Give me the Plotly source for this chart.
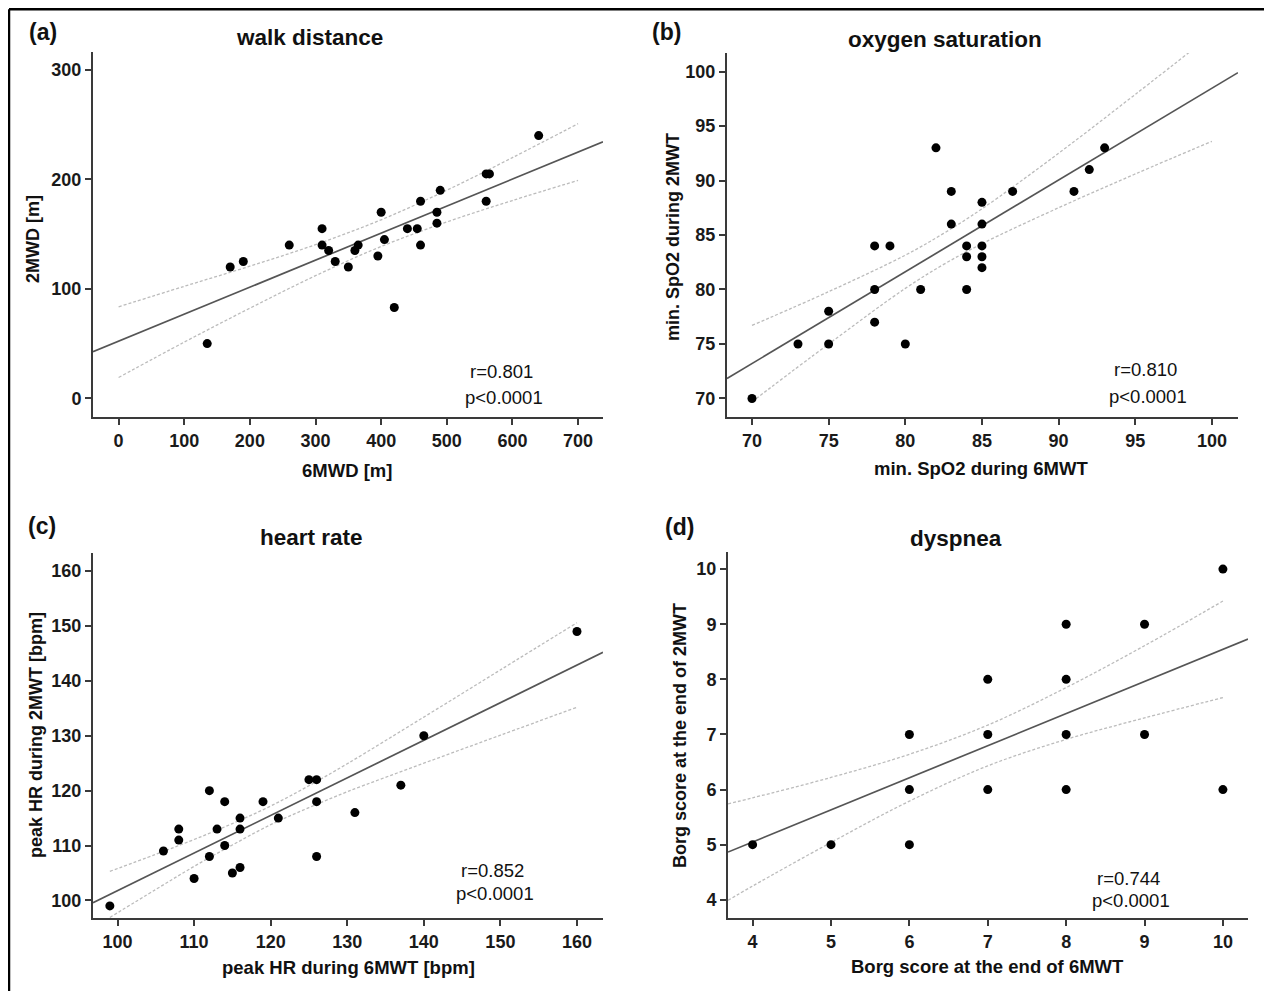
import plotly.graph_objects as go

# page is rendered with an 8px body margin, so the figure is offset by 8px
OFF = 8
FW, FH = 1272 - OFF, 991 - OFF

# ---------------- data ----------------
# (a) walk distance
a_x = [135, 170, 190, 260, 310, 310, 320, 330, 350, 360, 365, 395, 400, 405, 420,
       440, 455, 460, 460, 485, 485, 490, 560, 565, 560, 640]
a_y = [50, 120, 125, 140, 155, 140, 135, 125, 120, 135, 140, 130, 170, 145, 83,
       155, 155, 180, 140, 170, 160, 190, 205, 205, 180, 240]
a_fit_x = [-39, 738]
a_fit_y = [42.5, 234.4]
a_ci_x = [0, 100, 200, 300, 400, 500, 600, 700]
a_ci_upper = [83.6, 102.3, 120.7, 140.4, 163.1, 190.1, 219.9, 250.9]
a_ci_lower = [19.0, 51.3, 82.3, 112.0, 138.7, 161.1, 180.7, 199.1]

# (b) oxygen saturation
b_x = [70, 73, 75, 75, 78, 79, 78, 78, 80, 81, 82, 83, 83, 84, 84, 84, 85, 85, 85,
       85, 85, 87, 91, 92, 93]
b_y = [70, 75, 78, 75, 84, 84, 80, 77, 75, 80, 93, 89, 86, 84, 83, 80, 88, 86, 84,
       83, 82, 89, 89, 91, 93]
b_fit_x = [68.37, 101.7]
b_fit_y = [71.83, 99.9]
b_ci_x = [70, 75, 80, 82.5, 85, 90, 95, 100]
b_ci_upper = [76.7, 79.8, 83.15, 85.15, 87.4, 92.5, 97.9, 103.4]
b_ci_lower = [69.7, 75.0, 80.1, 82.3, 84.2, 87.5, 90.6, 93.6]

# (c) heart rate
c_x = [99, 106, 108, 108, 110, 112, 112, 113, 114, 114, 115, 116, 116, 116, 119,
       121, 125, 126, 126, 126, 131, 137, 140, 160]
c_y = [99, 109, 113, 111, 104, 120, 108, 113, 118, 110, 105, 115, 113, 106, 118,
       115, 122, 122, 118, 108, 116, 121, 130, 149]
c_fit_x = [96.8, 163.4]
c_fit_y = [99.6, 145.2]
c_ci_x = [99, 105, 110, 115, 120, 125, 130, 140, 150, 160]
c_ci_upper = [105.3, 108.4, 111.1, 114.0, 117.2, 120.9, 124.9, 133.4, 142.0, 150.6]
c_ci_lower = [96.9, 102.0, 106.2, 110.1, 113.8, 116.9, 119.8, 125.0, 130.1, 135.2]

# (d) dyspnea
d_x = [4, 5, 6, 6, 6, 7, 7, 7, 8, 8, 8, 8, 9, 9, 10, 10]
d_y = [5, 5, 7, 6, 5, 8, 7, 6, 9, 8, 7, 6, 9, 7, 10, 6]
d_fit_x = [3.686, 10.32]
d_fit_y = [4.866, 8.73]
d_ci_x = [3.686, 4, 5, 6, 7, 8, 9, 10]
d_ci_upper = [5.74, 5.85, 6.22, 6.64, 7.17, 7.85, 8.61, 9.42]
d_ci_lower = [3.99, 4.25, 5.04, 5.79, 6.43, 6.91, 7.30, 7.67]

panel_letters = ["(a)", "(b)", "(c)", "(d)"]
panel_titles = ["walk distance", "oxygen saturation", "heart rate", "dyspnea"]
x_titles = ["6MWD [m]", "min. SpO2 during 6MWT", "peak HR during 6MWT [bpm]",
            "Borg score at the end of 6MWT"]
y_titles = ["2MWD [m]", "min. SpO2 during 2MWT", "peak HR during 2MWT [bpm]",
            "Borg score at the end of 2MWT"]
r_labels = ["r=0.801", "r=0.810", "r=0.852", "r=0.744"]
p_labels = ["p<0.0001", "p<0.0001", "p<0.0001", "p<0.0001"]

a_xticks = [0, 100, 200, 300, 400, 500, 600, 700]
a_yticks = [0, 100, 200, 300]
b_xticks = [70, 75, 80, 85, 90, 95, 100]
b_yticks = [70, 75, 80, 85, 90, 95, 100]
c_xticks = [100, 110, 120, 130, 140, 150, 160]
c_yticks = [100, 110, 120, 130, 140, 150, 160]
d_xticks = [4, 5, 6, 7, 8, 9, 10]
d_yticks = [4, 5, 6, 7, 8, 9, 10]


def PX(px):
    return (px - OFF) / FW


def PY(py):
    return 1 - (py - OFF) / FH


# ---------------- layout geometry (page pixels) ----------------
panels = [
    dict(x=a_x, y=a_y, fx=a_fit_x, fy=a_fit_y, cx=a_ci_x, cu=a_ci_upper, cl=a_ci_lower,
         xt=a_xticks, yt=a_yticks, xr=[-39, 738], yr=[-17.1, 316.4],
         box=(93, 603, 52, 417)),
    dict(x=b_x, y=b_y, fx=b_fit_x, fy=b_fit_y, cx=b_ci_x, cu=b_ci_upper, cl=b_ci_lower,
         xt=b_xticks, yt=b_yticks, xr=[68.37, 101.7], yr=[68.3, 101.7],
         box=(727, 1238, 53, 417)),
    dict(x=c_x, y=c_y, fx=c_fit_x, fy=c_fit_y, cx=c_ci_x, cu=c_ci_upper, cl=c_ci_lower,
         xt=c_xticks, yt=c_yticks, xr=[96.8, 163.4], yr=[96.8, 163.3],
         box=(93, 603, 553, 918)),
    dict(x=d_x, y=d_y, fx=d_fit_x, fy=d_fit_y, cx=d_ci_x, cu=d_ci_upper, cl=d_ci_lower,
         xt=d_xticks, yt=d_yticks, xr=[3.686, 10.32], yr=[3.67, 10.31],
         box=(728, 1248, 552, 918)),
]

letter_pos = [(43, 32), (666, 32), (42, 526), (679, 527)]
title_pos = [(309, 37), (945, 39), (311, 537), (956, 538)]
xt_pos = [(347, 470), (981, 469), (348, 967), (987, 966)]
yt_pos = [(33, 239), (673, 237), (36, 735), (680, 735)]
r_pos = [(502, 371), (1145, 370), (492, 870), (1128, 878)]
p_pos = [(504, 397), (1148, 396), (495, 893), (1131, 900)]

FONT = "Liberation Sans, Arial, Helvetica, sans-serif"
AXC = "#3a3a3a"

fig = go.Figure()
layout = dict(width=FW, height=FH, margin=dict(l=0, r=0, t=0, b=0),
              paper_bgcolor="white", plot_bgcolor="white", showlegend=False,
              template="none")

for i, p in enumerate(panels):
    sfx = "" if i == 0 else str(i + 1)
    xa, ya = "x" + sfx, "y" + sfx
    x0, x1, y0, y1 = p["box"]
    layout["xaxis" + sfx] = dict(
        domain=[PX(x0), PX(x1)], range=p["xr"], anchor=ya,
        tickmode="array", tickvals=p["xt"], ticks="outside", ticklen=6, tickwidth=1.5,
        tickcolor=AXC, showline=True, linecolor=AXC, linewidth=2, showgrid=False,
        zeroline=False, automargin=False, ticklabelstandoff=0,
        tickfont=dict(family=FONT, size=18, color="#1a1a1a", weight="bold"))
    layout["yaxis" + sfx] = dict(
        domain=[PY(y1), PY(y0)], range=p["yr"], anchor=xa,
        tickmode="array", tickvals=p["yt"], ticks="outside", ticklen=6, tickwidth=1.5,
        tickcolor=AXC, showline=True, linecolor=AXC, linewidth=2, showgrid=False,
        zeroline=False, automargin=False, ticklabelstandoff=0,
        tickfont=dict(family=FONT, size=18, color="#1a1a1a", weight="bold"))

    for ys in (p["cu"], p["cl"]):
        fig.add_trace(go.Scatter(x=p["cx"], y=ys, mode="lines", xaxis=xa, yaxis=ya,
                                 line=dict(color="#bcbcbc", width=1.3, dash="3px,2px",
                                           shape="spline", smoothing=1.0),
                                 hoverinfo="skip"))
    fig.add_trace(go.Scatter(x=p["fx"], y=p["fy"], mode="lines", xaxis=xa, yaxis=ya,
                             line=dict(color="#555555", width=1.7), hoverinfo="skip"))
    fig.add_trace(go.Scatter(x=p["x"], y=p["y"], mode="markers", xaxis=xa, yaxis=ya,
                             marker=dict(color="black", size=9, line=dict(width=0))))

annotations = []


def ann(text, pos, size, bold=False, angle=0):
    annotations.append(dict(
        text=("<b>%s</b>" % text) if bold else text,
        x=PX(pos[0]), y=PY(pos[1]), xref="paper", yref="paper",
        xanchor="center", yanchor="middle", showarrow=False, textangle=angle,
        font=dict(family=FONT, size=size, color="#111111")))


for i in range(4):
    ann(panel_letters[i], letter_pos[i], 23, bold=True)
    ann(panel_titles[i], title_pos[i], 22.5, bold=True)
    ann(x_titles[i], xt_pos[i], 18.5, bold=True)
    ann(y_titles[i], yt_pos[i], 18, bold=True, angle=-90)
    ann(r_labels[i], r_pos[i], 18.5)
    ann(p_labels[i], p_pos[i], 18.5)

layout["annotations"] = annotations

# outer frame (top, left, right); top edge sits at the page's 8px margin
fx0, fx1, fy0 = PX(9), PX(1269.5), PY(9.2)
layout["shapes"] = [
    dict(type="line", xref="paper", yref="paper", x0=fx0, x1=fx1, y0=fy0, y1=fy0,
         line=dict(color="black", width=2.5)),
    dict(type="line", xref="paper", yref="paper", x0=fx0, x1=fx0, y0=fy0, y1=0,
         line=dict(color="black", width=2.5)),
    dict(type="line", xref="paper", yref="paper", x0=fx1, x1=fx1, y0=fy0, y1=0,
         line=dict(color="black", width=2.5)),
]

fig.update_layout(**layout)
fig.write_html("out.html")
